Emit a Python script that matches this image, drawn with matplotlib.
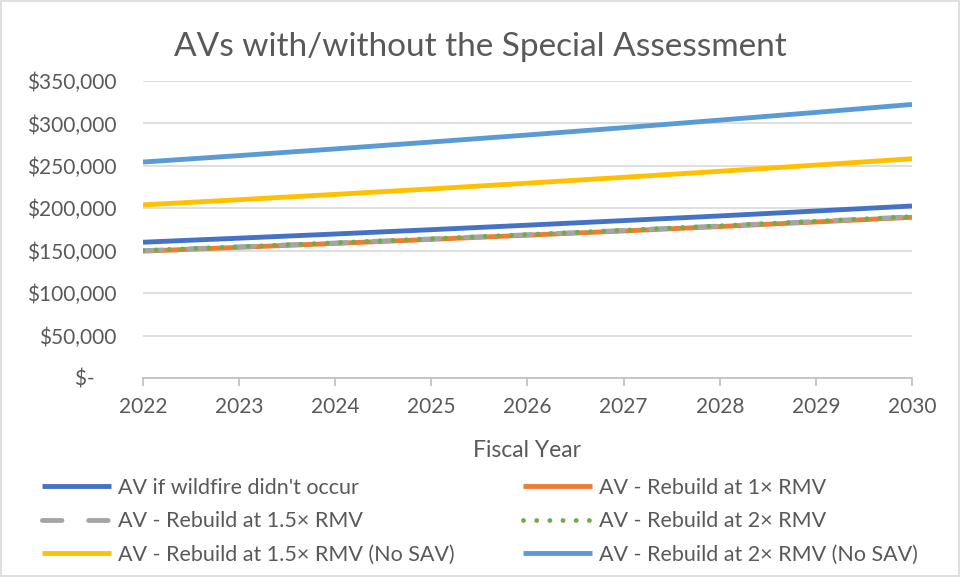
"""
AVs with/without the Special Assessment - line chart recreation.
"""
import matplotlib
matplotlib.use("Agg")
import matplotlib.pyplot as plt
from matplotlib.patches import Rectangle
from matplotlib.ticker import FuncFormatter

years = [2022, 2023, 2024, 2025, 2026, 2027, 2028, 2029, 2030]

av_no_fire = [160000, 164800, 169700, 174800, 180100, 185500, 191000, 196800, 202700]
av_1x = [149500, 154000, 158600, 163400, 168300, 173300, 178500, 183900, 189400]
av_15x = [150000, 154500, 159100, 163900, 168800, 173900, 179100, 184500, 190000]
av_2x = [150200, 154700, 159300, 164100, 169000, 174100, 179300, 184700, 190200]
av_15x_nosav = [204000, 210100, 216400, 222900, 229600, 236500, 243600, 250900, 258400]
av_2x_nosav = [254500, 262100, 270000, 278100, 286400, 295000, 303900, 313000, 322400]

labels = ["AV if wildfire didn't occur", "AV - Rebuild at 1× RMV",
          "AV - Rebuild at 1.5× RMV", "AV - Rebuild at 2× RMV",
          "AV - Rebuild at 1.5× RMV (No SAV)", "AV - Rebuild at 2× RMV (No SAV)"]

plt.rcParams["font.family"] = ["Lato", "DejaVu Sans"]
TXT = "#595959"
LW = 3.5

fig = plt.figure(figsize=(9.61, 5.77), dpi=100)
ax = fig.add_axes([0.1488, 0.3449, 0.8002, 0.5147])

# --- series ---
h_blue, = ax.plot(years, av_no_fire, color="#4472C4", lw=LW, solid_capstyle="butt")
h_orng, = ax.plot(years, av_1x, color="#ED7D31", lw=LW, solid_capstyle="butt")
h_gray, = ax.plot(years, av_15x, color="#A5A5A5", lw=LW, dashes=(4.0, 5.5),
                  dash_capstyle="round")
h_grn, = ax.plot(years, av_2x, color="#70AD47", lw=LW, dashes=(0.01, 2.7),
                 dash_capstyle="round")
h_yel, = ax.plot(years, av_15x_nosav, color="#FFC000", lw=LW, solid_capstyle="butt")
h_lb, = ax.plot(years, av_2x_nosav, color="#5B9BD5", lw=LW, solid_capstyle="butt")

# --- axes ---
ax.set_xlim(2022, 2030)
ax.set_ylim(0, 350000)
ax.set_xticks(years)
ax.set_yticks(range(0, 350001, 50000))
ax.yaxis.set_major_formatter(FuncFormatter(
    lambda v, _: "$-    " if v == 0 else f"${v:,.0f}"))
ax.grid(axis="y", color="#D9D9D9", lw=1.2)
ax.set_axisbelow(True)
for s in ["top", "right", "left"]:
    ax.spines[s].set_visible(False)
ax.spines["bottom"].set_color("#BFBFBF")
ax.spines["bottom"].set_linewidth(1.2)
ax.tick_params(axis="y", length=0, pad=19, labelsize=15, labelcolor=TXT)
ax.tick_params(axis="x", length=6, width=1.2, color="#BFBFBF", pad=8,
               labelsize=15, labelcolor=TXT)
ax.set_xlabel("Fiscal Year", fontsize=16.5, color=TXT, labelpad=16)

fig.text(0.5, 0.918, "AVs with/without the Special Assessment", ha="center",
         va="center", fontsize=24, color=TXT)

# --- legend: two columns ---
leg_kw = dict(frameon=False, fontsize=15.5, labelcolor=TXT, handlelength=3.2,
              handletextpad=0.35, labelspacing=0.63, borderaxespad=0, borderpad=0)
leg1 = fig.legend([h_blue, h_gray, h_yel], [labels[0], labels[2], labels[4]],
                  loc="upper left", bbox_to_anchor=(0.0437, 0.172), **leg_kw)
leg2 = fig.legend([h_orng, h_grn, h_lb], [labels[1], labels[3], labels[5]],
                  loc="upper left", bbox_to_anchor=(0.544, 0.172), **leg_kw)

fig.patches.append(Rectangle((0.001, 0.001), 0.997, 0.997, transform=fig.transFigure,
                             fill=False, edgecolor="#D9D9D9", lw=1.2))

fig.savefig("out.png", dpi=100)
